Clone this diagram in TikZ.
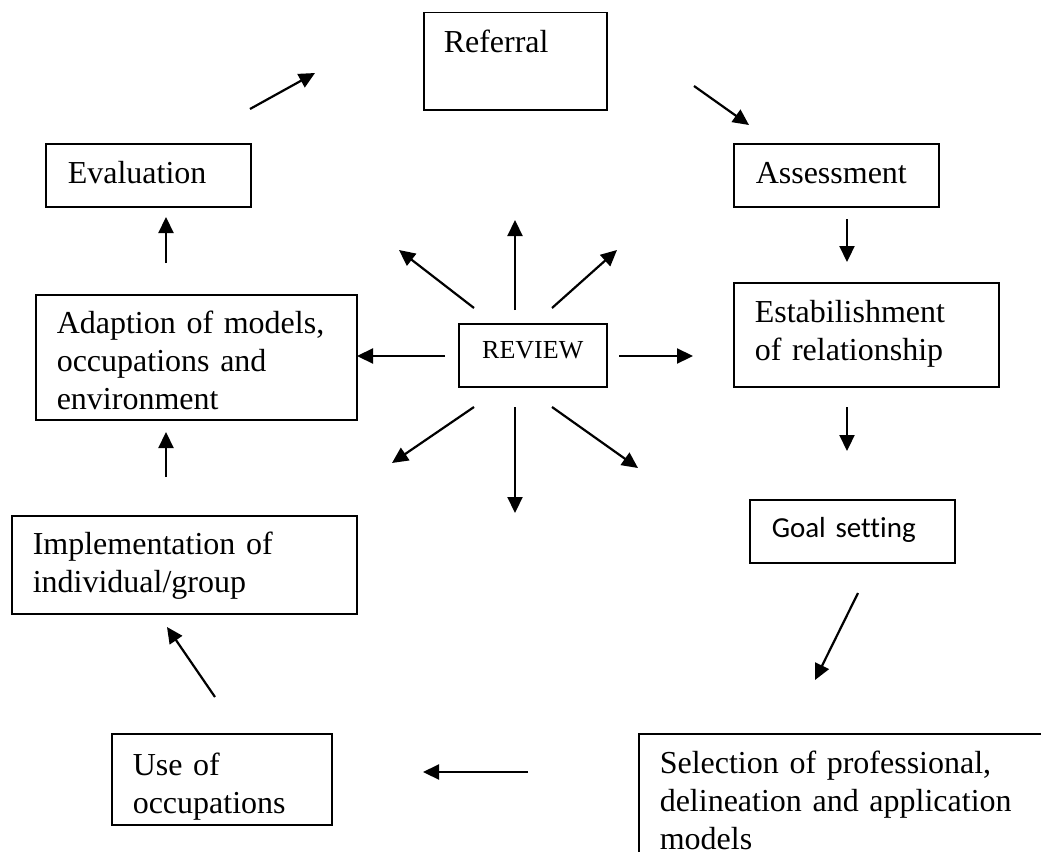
\documentclass[tikz,border=0pt]{standalone}
\usepackage{fontspec}
\setmainfont{Liberation Serif}
\newfontfamily\goalfont[Ligatures=NoCommon]{Carlito}
\usepackage{tikz}
\usetikzlibrary{arrows.meta, positioning}

\begin{document}
\begin{tikzpicture}[x=1pt, y=-1pt,
    stage/.style={rectangle, draw=black, line width=1.5pt, anchor=north west, align=left, inner ysep=0pt, inner xsep=21pt, font=\fontsize{32}{38}\selectfont},
    arrow/.style={line width=2.2pt, ->, >={Triangle[length=16pt, width=15pt]}}]

\useasboundingbox (0,0) rectangle (1041,851);

\node (referral) [stage, inner xsep=20pt, text width=143pt, text height=40pt, text depth=57pt] at (423,12) {Referral};
\node (evaluation) [stage, inner xsep=22pt, text width=161pt, text height=40pt, text depth=23pt] at (45,143) {Evaluation};
\node (assessment) [stage, inner xsep=22pt, text width=161pt, text height=40pt, text depth=23pt] at (733,143) {Assessment};
\node (relation) [stage, text width=223pt, text height=40pt, text depth=64pt] at (733,282) {Estabilishment\\of relationship};
\node (goal) [stage, inner xsep=22pt, text width=161pt, text height=38pt, text depth=25pt, font=\goalfont\fontsize{29}{35}\selectfont] at (749,499) {Goal setting};
\node (selection) [stage, text width=420pt, text height=40pt, text depth=127pt] at (638,733) {Selection of professional,\\delineation and application\\models};
\node (use) [stage, text width=178pt, text height=42pt, text depth=49pt] at (111,733) {Use of\\occupations};
\node (implement) [stage, text width=303pt, text height=39pt, text depth=59pt] at (11,515) {Implementation of\\individual/group};
\node (adaption) [stage, text width=279pt, text height=39pt, text depth=86pt] at (35,294) {Adaption of models,\\occupations and\\environment};
\node (review) [stage, align=center, inner xsep=0pt, text width=148pt, text height=35pt, text depth=28pt, font=\fontsize{26}{30}\selectfont] at (458,323) {REVIEW};

\coordinate (ev-out) at (250,109);  \coordinate (ref-in) at (315,73);
\coordinate (ref-out) at (694,86);  \coordinate (as-in) at (749,125);
\coordinate (as-out) at (847,219);  \coordinate (rel-in) at (847,262);
\coordinate (rel-out) at (847,407); \coordinate (goal-in) at (847,451);
\coordinate (goal-out) at (858,593); \coordinate (sel-in) at (815,680);
\coordinate (sel-out) at (528,772); \coordinate (use-in) at (423,772);
\coordinate (use-out) at (215,697); \coordinate (imp-in) at (167,627);
\coordinate (imp-out) at (166,477); \coordinate (ad-in) at (166,432);
\coordinate (ad-out) at (166,263);  \coordinate (ev-in) at (166,217);

\draw [arrow] (ev-out) -- (ref-in);
\draw [arrow] (ref-out) -- (as-in);
\draw [arrow] (as-out) -- (rel-in);
\draw [arrow] (rel-out) -- (goal-in);
\draw [arrow] (goal-out) -- (sel-in);
\draw [arrow] (sel-out) -- (use-in);
\draw [arrow] (use-out) -- (imp-in);
\draw [arrow] (imp-out) -- (ad-in);
\draw [arrow] (ad-out) -- (ev-in);

\coordinate (rv-n) at (515,310);  \coordinate (tip-n) at (515,220);
\coordinate (rv-nw) at (474,308); \coordinate (tip-nw) at (399,250);
\coordinate (rv-ne) at (552,308); \coordinate (tip-ne) at (617,250);
\coordinate (rv-e) at (619,356);  \coordinate (tip-e) at (693,356);
\coordinate (rv-w) at (445,356);  \coordinate (tip-w) at (357,356);
\coordinate (rv-sw) at (474,407); \coordinate (tip-sw) at (392,463);
\coordinate (rv-s) at (515,407);  \coordinate (tip-s) at (515,513);
\coordinate (rv-se) at (552,407); \coordinate (tip-se) at (638,468);

\draw [arrow] (rv-n) -- (tip-n);
\draw [arrow] (rv-nw) -- (tip-nw);
\draw [arrow] (rv-ne) -- (tip-ne);
\draw [arrow] (rv-e) -- (tip-e);
\draw [arrow] (rv-w) -- (tip-w);
\draw [arrow] (rv-sw) -- (tip-sw);
\draw [arrow] (rv-s) -- (tip-s);
\draw [arrow] (rv-se) -- (tip-se);

\end{tikzpicture}
\end{document}
